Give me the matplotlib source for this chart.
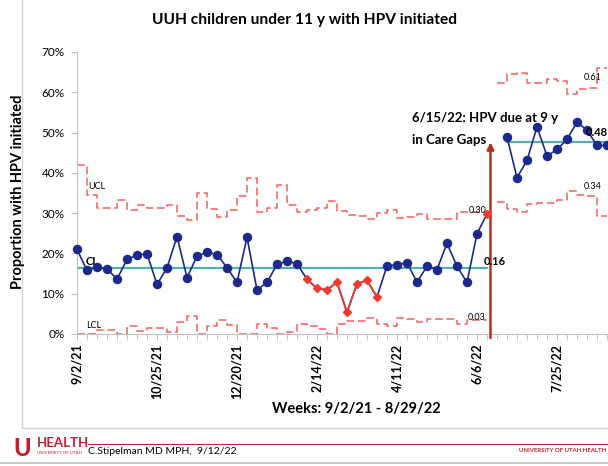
import numpy as np
import matplotlib.pyplot as plt
from matplotlib.lines import Line2D
from matplotlib.ticker import FixedLocator, MultipleLocator, FuncFormatter

plt.rcParams['font.family'] = ['Lato', 'DejaVu Sans']

# x axis: one category per week, label every 8th week
tick_pos = [0, 8, 16, 24, 32, 40, 48]
tick_labels = ['9/2/21', '10/25/21', '12/20/21', '2/14/22', '4/11/22', '6/6/22', '7/25/22']

# phase 1: weeks 0-41, percent initiated
pct1 = [21.0, 15.8, 16.6, 16.2, 13.6, 18.5, 19.6, 19.9, 12.3, 16.4,
        24.2, 14.0, 19.3, 20.3, 19.7, 16.5, 12.8, 24.0, 10.9, 12.8,
        17.3, 18.1, 17.4, 13.6, 11.3, 11.0, 12.8, 5.4, 12.5, 13.3,
        9.2, 16.9, 17.2, 17.7, 12.9, 16.8, 16.0, 22.5, 16.8, 12.8,
        24.9, 29.8]
special1 = [23, 24, 25, 26, 27, 28, 29, 30, 41]
cl1 = 16.3
# control limits for weeks 1-41 (step drawn back to previous week)
ucl1 = [41.9, 34.5, 31.3, 31.3, 33.3, 30.9, 31.9, 31.3, 31.2, 32.1,
        29.4, 28.4, 34.9, 31.0, 29.1, 30.9, 34.2, 38.6, 30.2, 31.4,
        37.0, 32.1, 30.4, 30.8, 31.4, 32.9, 30.5, 29.5, 29.3, 28.6,
        30.1, 30.8, 28.7, 29.0, 29.8, 28.5, 28.6, 28.6, 30.4, 30.4, 30.4]
lcl1 = [0, 0, 1.1, 1.1, 0, 2.0, 0.8, 1.4, 1.4, 0.4,
        3.0, 4.4, 0, 2.0, 3.5, 2.2, 0, 0, 2.5, 1.4,
        0, 0.6, 2.5, 2.1, 1.2, 0, 2.6, 3.2, 3.2, 4.0,
        2.6, 2.0, 4.0, 3.8, 3.0, 3.8, 3.8, 3.8, 2.6, 3.4, 3.4]

# phase 2: weeks 43-53 (HPV due at 9 y)
pct2 = [48.9, 38.8, 43.1, 51.4, 44.2, 45.8, 48.3, 52.6, 50.6, 46.8, 46.8]
cl2 = 47.7
ucl2 = [62.2, 64.6, 64.8, 62.2, 62.2, 63.2, 62.9, 59.5, 60.8, 61.0, 66.0]
lcl2 = [32.8, 31.0, 30.2, 32.3, 32.6, 32.6, 33.3, 35.4, 34.6, 34.3, 29.2]

navy = '#1B2A8A'
red_pt = '#EF3A2D'
lim_red = '#F2615C'
teal = '#55AFAE'
dark_red = '#B3302A'

fig = plt.figure(figsize=(6.08, 4.66), dpi=100)
ax = fig.add_axes([77 / 608, 1 - 334 / 466, 531 / 608, 282 / 466])

w1 = np.arange(len(pct1))
w2 = np.arange(43, 43 + len(pct2))
p1 = np.array(pct1)
normal1 = [i for i in w1 if i not in special1]

dash = (0, (5, 2.5))
ax.plot(w1, np.r_[ucl1[0], ucl1], drawstyle='steps-pre', color=lim_red, lw=1.1, ls=dash, clip_on=False)
ax.plot(w1, np.r_[lcl1[0], lcl1], drawstyle='steps-pre', color=lim_red, lw=1.1, ls=dash, clip_on=False)
w2l = np.r_[42, w2]
ax.plot(w2l, np.r_[ucl2[0], ucl2], drawstyle='steps-pre', color=lim_red, lw=1.1, ls=dash, clip_on=False)
ax.plot(w2l, np.r_[lcl2[0], lcl2], drawstyle='steps-pre', color=lim_red, lw=1.1, ls=dash, clip_on=False)

ax.plot([0, 41], [cl1, cl1], color=teal, lw=1.6)
ax.plot([43, 53.2], [cl2, cl2], color=teal, lw=1.6, clip_on=False)

ax.plot(w1, p1, color=navy, lw=1.2, zorder=3)
ax.plot(normal1, p1[normal1], ls='none', marker='o', ms=5.8, color=navy, clip_on=False, zorder=4)
run = special1[:-1]
ax.plot(run, p1[run], color=red_pt, lw=1.2, zorder=4)
ax.plot(special1, p1[special1], ls='none', marker='D', ms=4, color=red_pt, zorder=5)
ax.plot(w2, pct2, color=navy, lw=1.2, marker='o', ms=5.8, clip_on=False, zorder=3)

# phase change arrow and note
ax.annotate('', xy=(41.35, 47.6), xytext=(41.35, -1.0),
            arrowprops=dict(arrowstyle='-|>', color=dark_red, lw=1.8,
                            mutation_scale=10, shrinkA=0, shrinkB=0),
            annotation_clip=False)
ax.text(33.5, 53.6, '6/15/22: HPV due at 9 y', fontsize=9.5, fontweight='bold', va='center')
ax.text(33.5, 48.1, 'in Care Gaps', fontsize=9.5, fontweight='bold', va='center')

# limit labels
ax.text(1.1, 36.7, 'UCL', fontsize=6.5, va='center')
ax.text(0.9, 17.9, 'CL', fontsize=8, fontweight='bold', va='center')
ax.text(0.9, 2.0, 'LCL', fontsize=6.5, va='center')
ax.text(39.2, 30.6, '0.30', fontsize=6.5, va='center')
ax.text(40.7, 18.1, '0.16', fontsize=8, fontweight='bold', va='center')
ax.text(39.1, 4.0, '0.03', fontsize=6.5, va='center')
ax.text(50.7, 63.6, '0.61', fontsize=6.5, va='center')
ax.text(50.9, 49.9, '0.48', fontsize=8, fontweight='bold', va='center')
ax.text(50.7, 36.6, '0.34', fontsize=6.5, va='center')

ax.set_xlim(0, 53.1)
ax.set_ylim(0, 70)
ax.xaxis.set_major_locator(FixedLocator(tick_pos))
ax.set_xticklabels(tick_labels, rotation=90, fontsize=9, fontweight='bold')
ax.xaxis.set_minor_locator(MultipleLocator(1))
ax.yaxis.set_major_locator(MultipleLocator(10))
ax.yaxis.set_major_formatter(FuncFormatter(lambda v, p: f'{v:.0f}%'))
ax.tick_params(axis='y', labelsize=8.5, length=4, color='#BFBFBF', pad=5)
ax.tick_params(axis='x', which='both', length=4, color='#BFBFBF', pad=3)
for s in ['top', 'right']:
    ax.spines[s].set_visible(False)
for s in ['left', 'bottom']:
    ax.spines[s].set_color('#BFBFBF')
ax.spines['bottom'].set_bounds(0, 53.1)

fig.text(0.5, 1 - 20 / 466, 'UUH children under 11 y with HPV initiated',
         ha='center', va='center', fontsize=11.2, fontweight='bold')
fig.text(18 / 608, 1 - 192 / 466, 'Proportion with HPV initiated', rotation=90,
         ha='center', va='center', fontsize=10.5, fontweight='bold')
fig.text(356 / 608, 1 - 409 / 466, 'Weeks: 9/2/21 - 8/29/22',
         ha='center', va='center', fontsize=10.5, fontweight='bold')

# slide frame and footer
fig.add_artist(Line2D([22 / 608, 22 / 608], [1, 1 - 428 / 466], color='#D5D5D5', lw=1))
fig.add_artist(Line2D([22 / 608, 1], [1 - 428 / 466, 1 - 428 / 466], color='#D5D5D5', lw=1))
fig.add_artist(Line2D([0, 1], [1 - 463 / 466, 1 - 463 / 466], color='#C8C8C8', lw=1.5))
fig.add_artist(Line2D([88 / 608, 1], [1 - 444 / 466, 1 - 444 / 466], color='#C0282D', lw=0.8))
fig.text(13 / 608, 1 - 448 / 466, 'U', color='#BE1E2D', fontsize=17, fontweight='black',
         va='center', ha='left')
fig.text(37 / 608, 1 - 443 / 466, 'HEALTH', color='#BE1E2D', fontsize=9.5, fontweight='bold',
         va='center', ha='left')
fig.text(37 / 608, 1 - 453 / 466, 'UNIVERSITY OF UTAH', color='#BE1E2D', fontsize=3.2,
         va='center', ha='left')
fig.text(88 / 608, 1 - 452 / 466, 'C.Stipelman MD MPH,  9/12/22', fontsize=7.5,
         va='center', ha='left')
fig.text(606 / 608, 1 - 450 / 466, 'UNIVERSITY OF UTAH HEALTH', color='#BE1E2D', fontsize=4.3,
         fontweight='bold', va='center', ha='right')

fig.savefig('out.png', dpi=100)
